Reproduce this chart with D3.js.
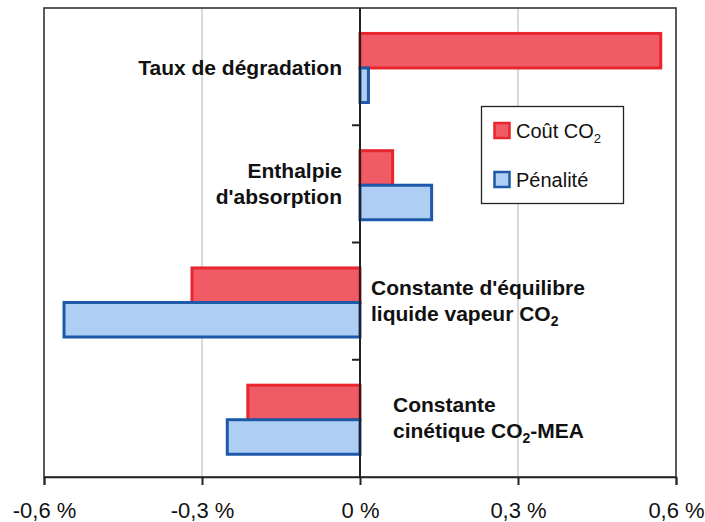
<!DOCTYPE html>
<html><head><meta charset="utf-8">
<script src="https://cdn.jsdelivr.net/npm/d3@7"></script>
<style>
html,body{margin:0;padding:0;background:#fff;}
svg{display:block;font-family:"Liberation Sans",Arial,sans-serif;}
</style></head>
<body>
<svg id="chart" width="705" height="522"></svg>
<script>
// ---- data ----
const categories = ["Taux de dégradation", "Enthalpie d'absorption", "Constante d'équilibre liquide vapeur CO2", "Constante cinétique CO2-MEA"];
const seriesNames = ["Coût CO2", "Pénalité"];
const coutCO2 = [0.571, 0.062, -0.319, -0.213];
const penalite = [0.016, 0.136, -0.562, -0.252];
const xTicks = [-0.6, -0.3, 0, 0.3, 0.6];
const xTickLabels = ["-0,6 %", "-0,3 %", "0 %", "0,3 %", "0,6 %"];

const colors = {
  "Coût CO2": {fill: "#F15B66", stroke: "#E8262E"},
  "Pénalité": {fill: "#AFCEF3", stroke: "#1D59A9"}
};

const svg = d3.select("#chart");
const m = {left: 44, right: 676, top: 8, bottom: 477};

const x = d3.scaleLinear().domain([-0.6, 0.6]).range([m.left, m.right]);
const y = d3.scaleBand().domain(categories).range([m.top, m.bottom]).padding(0);
const bw = y.bandwidth();
const ySub = d3.scaleBand().domain(seriesNames).range([bw * 0.217, bw * 0.806]).padding(0);

// gridlines
svg.append("g").selectAll("line").data(xTicks.filter(t => t !== 0 && Math.abs(t) !== 0.6)).join("line")
  .attr("x1", d => x(d)).attr("x2", d => x(d))
  .attr("y1", m.top).attr("y2", m.bottom)
  .attr("stroke", "#d9d9d9").attr("stroke-width", 2);

// frame
svg.append("rect").attr("x", m.left).attr("y", m.top)
  .attr("width", m.right - m.left).attr("height", m.bottom - m.top)
  .attr("fill", "none").attr("stroke", "#333").attr("stroke-width", 1.6);

// bars
const rows = categories.map((c, i) => ({cat: c, vals: [
  {s: "Coût CO2", v: coutCO2[i]}, {s: "Pénalité", v: penalite[i]}]}));

const g = svg.append("g");
rows.forEach(r => {
  r.vals.forEach(d => {
    g.append("rect")
      .attr("x", x(Math.min(0, d.v)))
      .attr("width", Math.abs(x(d.v) - x(0)))
      .attr("y", y(r.cat) + ySub(d.s))
      .attr("height", ySub.bandwidth())
      .attr("fill", colors[d.s].fill)
      .attr("stroke", colors[d.s].stroke)
      .attr("stroke-width", 3);
  });
});

// x axis
const xAxis = d3.axisBottom(x).tickValues(xTicks).tickSize(8)
  .tickFormat((d, i) => xTickLabels[i]);
const xg = svg.append("g").attr("transform", `translate(0,${m.bottom})`).call(xAxis);
xg.select(".domain").attr("stroke", "#222").attr("stroke-width", 1.6);
xg.selectAll(".tick line").attr("stroke", "#222").attr("stroke-width", 2);
xg.selectAll(".tick text").attr("font-size", 22).attr("fill", "#111")
  .attr("font-family", "Liberation Sans, Arial, sans-serif").attr("dy", "0").attr("y", 41);

// zero (category) axis
svg.append("line").attr("x1", x(0)).attr("x2", x(0)).attr("y1", m.top).attr("y2", m.bottom)
  .attr("stroke", "#222").attr("stroke-width", 2);
const bounds = categories.slice(1).map(c => y(c));
svg.append("g").selectAll("line").data(bounds).join("line")
  .attr("x1", x(0) - 8).attr("x2", x(0)).attr("y1", d => d).attr("y2", d => d)
  .attr("stroke", "#222").attr("stroke-width", 2);

// text with subscripts
function addSubText(sel, parts, subSize, shift) {
  let pending = 0;
  parts.forEach(p => {
    const ts = sel.append("tspan").text(p.t);
    if (p.sub) {
      ts.attr("font-size", subSize).attr("dy", pending + shift);
      pending = -shift;
    } else {
      if (pending) ts.attr("dy", pending);
      pending = 0;
    }
  });
}
const labelSpecs = [
  {lines: [[{t: "Taux de dégradation"}]], anchor: "end", x: 342, y: [75]},
  {lines: [[{t: "Enthalpie"}], [{t: "d'absorption"}]], anchor: "end", x: 342, y: [178, 204]},
  {lines: [[{t: "Constante d'équilibre"}], [{t: "liquide vapeur CO"}, {t: "2", sub: true}]], anchor: "start", x: 371, y: [295, 321]},
  {lines: [[{t: "Constante"}], [{t: "cinétique CO"}, {t: "2", sub: true}, {t: "-MEA"}]], anchor: "start", x: 393, y: [412, 438]}
];
labelSpecs.forEach(s => {
  s.lines.forEach((ln, j) => {
    const t = svg.append("text").attr("x", s.x).attr("y", s.y[j])
      .attr("text-anchor", s.anchor).attr("font-weight", "bold").attr("font-size", 21).attr("fill", "#111");
    addSubText(t, ln, 14, 5);
  });
});

// legend
const lg = svg.append("g");
lg.append("rect").attr("x", 481.5).attr("y", 106.5).attr("width", 142).attr("height", 97)
  .attr("fill", "#fff").attr("stroke", "#222").attr("stroke-width", 1.3);
const legendItems = [
  {s: "Coût CO2", parts: [{t: "Coût CO"}, {t: "2", sub: true}], y: 123},
  {s: "Pénalité", parts: [{t: "Pénalité"}], y: 172}
];
legendItems.forEach(it => {
  lg.append("rect").attr("x", 494.5).attr("y", it.y).attr("width", 15).attr("height", 15)
    .attr("fill", colors[it.s].fill).attr("stroke", colors[it.s].stroke).attr("stroke-width", 2.5);
  const t = lg.append("text").attr("x", 516).attr("y", it.y + 14.5)
    .attr("font-size", 20).attr("fill", "#111");
  addSubText(t, it.parts, 13, 5);
});
</script>
</body></html>
